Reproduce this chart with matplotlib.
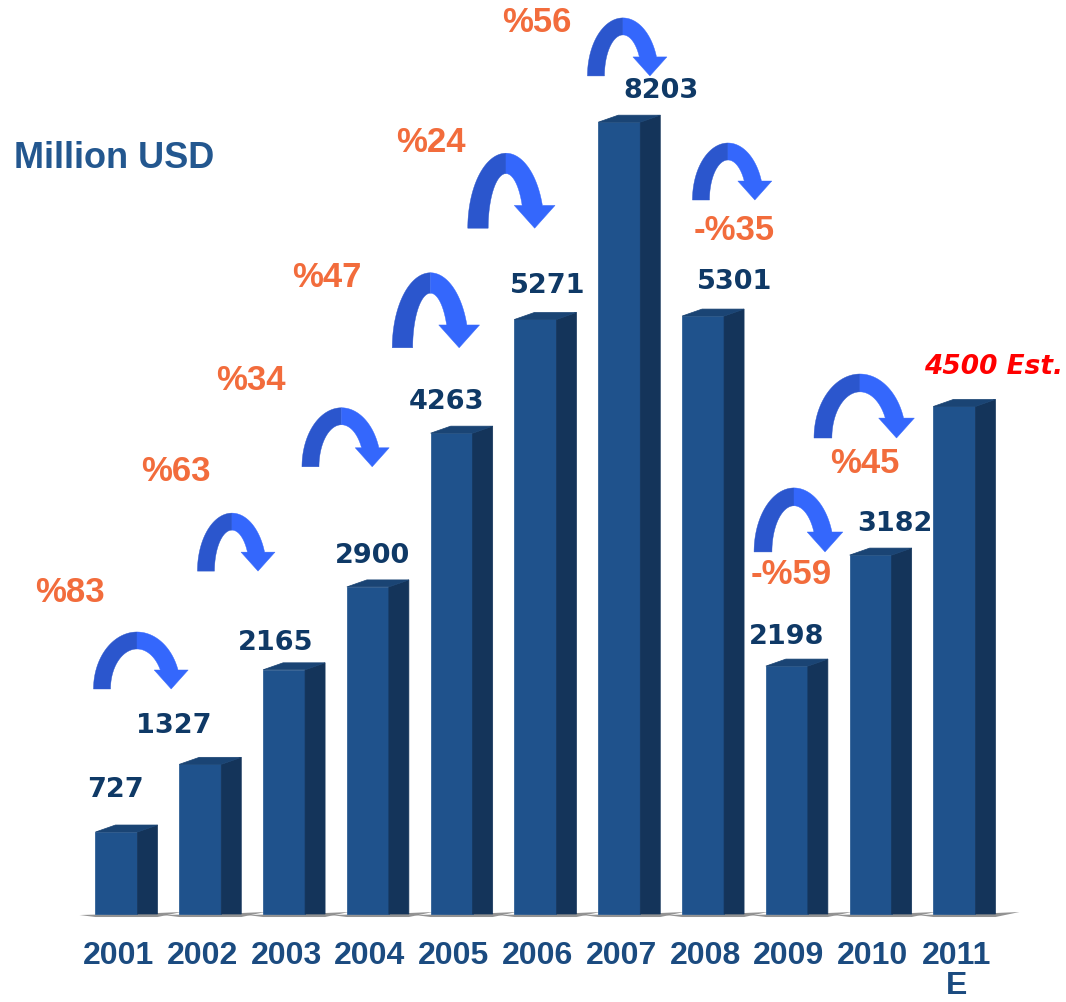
import matplotlib.pyplot as plt
import numpy as np
from matplotlib.patches import Polygon

# data
years = ['2001', '2002', '2003', '2004', '2005', '2006', '2007', '2008', '2009', '2010', '2011\nE']
values = [727, 1327, 2165, 2900, 4263, 5271, 8203, 5301, 2198, 3182, 4500]
value_labels = ['727', '1327', '2165', '2900', '4263', '5271', '8203', '5301', '2198', '3182', '4500 Est.']
growth_labels = ['%83', '%63', '%34', '%47', '%24', '%56', '-%35', '-%59', '%45']

# the 2007 bar is drawn cut off on the slide
display_cap = 7020

# label layout (offsets in pixels from the bar top)
label_dx = [-1, -27, -8, 5, -5, 12, 42, 32, 0, 24, 39]
label_dy = [43, 39, 28, 32, 32, 34, 32, 35, 30, 32, 40]

# growth text positions (bar index, value level)
growth_x = [-0.55, 0.71, 1.60, 2.51, 3.75, 5.02, 7.37, 8.05, 8.93]
growth_y = [2860, 3930, 4735, 5655, 6845, 7915, 6065, 3015, 4005]

# curved arrows: anchor (bar index, value level), radii in px, size scale
arrow_x = [0.245, 1.378, 2.685, 3.747, 4.648, 6.044, 7.297, 8.085, 8.872]
arrow_y = [1995, 3040, 3965, 5020, 6080, 7430, 6330, 3210, 4220]
arrow_rx = [35, 26, 31, 28, 28, 27, 27, 31, 37]
arrow_ry = [57, 58, 59, 75, 75, 58, 57, 64, 64]
arrow_s = [1.0, 1.0, 1.0, 1.2, 1.2, 1.0, 1.0, 1.05, 1.05]

W, H = 1066, 1003
fig = plt.figure(figsize=(W / 100, H / 100), dpi=100)
ax = fig.add_axes([0, 0, 1, 1])
x0, x1 = -1.390, 11.331
y0, y1 = -780, 8112
ax.set_xlim(x0, x1)
ax.set_ylim(y0, y1)
ax.axis('off')

ppx = W / (x1 - x0)   # pixels per x unit
ppy = H / (y1 - y0)   # pixels per value unit

front_c = '#1f528c'
side_c = '#14345a'
top_c = '#1a4474'
label_font = ['Liberation Sans', 'DejaVu Sans']

x = np.arange(len(values))
shown = np.minimum(values, display_cap)
bw = 42 / ppx
ddx = 20 / ppx
ddy = 7 / ppy

bars = ax.bar(x, shown, width=bw, color=front_c, edgecolor=front_c,
              zorder=3, linewidth=0.5)
for rect in bars:
    L = rect.get_x()
    R = L + rect.get_width()
    h = rect.get_height()
    side = Polygon([(R, 0), (R + ddx, 0), (R + ddx, h + ddy), (R, h)],
                   closed=True, fc=side_c, ec=side_c, lw=0.5, zorder=3)
    top = Polygon([(L, h), (R, h), (R + ddx, h + ddy), (L + ddx, h + ddy)],
                  closed=True, fc=top_c, ec=top_c, lw=0.5, zorder=3)
    ax.add_patch(side)
    ax.add_patch(top)
    # floor shadow
    shadow = Polygon([(L - 16 / ppx, -1 / ppy), (L, -3 / ppy), (R + ddx, -3 / ppy),
                      (R + ddx + 24 / ppx, 2 / ppy), (R + ddx, 1 / ppy)],
                     closed=True, color='#3a3a3a', alpha=0.55, zorder=2, lw=0)
    ax.add_patch(shadow)

# value labels
for i, (lab, h) in enumerate(zip(value_labels, shown)):
    if 'Est' in lab:
        ax.annotate(lab, (x[i], h), xytext=(label_dx[i], label_dy[i]),
                    textcoords='offset pixels', ha='center', va='center',
                    fontsize=19, fontweight='bold', style='italic',
                    color='#ff0000', family='DejaVu Sans', zorder=5)
    else:
        ax.annotate(lab, (x[i], h), xytext=(label_dx[i], label_dy[i]),
                    textcoords='offset pixels', ha='center', va='center',
                    fontsize=19.5, fontweight='bold', color='#0f3966',
                    family='DejaVu Sans', zorder=5)

# year labels
for i, yr in enumerate(years):
    ax.annotate(yr, (x[i], 0), xytext=(2, -26), textcoords='offset pixels',
                ha='center', va='top', fontsize=23, fontweight='bold',
                color='#1b4b80', family=label_font, linespacing=1.0)

# growth percentages
for gx, gy, g in zip(growth_x, growth_y, growth_labels):
    ax.text(gx, gy, g, ha='center', va='center', fontsize=25, fontweight='bold',
            color='#f26c3c', family=label_font, zorder=5)


def turn_arrow(ax, cx, cy, rx, ry, s):
    w, hw, hh = 17 * s, 34 * s, 19 * s

    def pts(r_x, r_y, t):
        return np.column_stack([cx + r_x * np.cos(t) / ppx, cy + r_y * np.sin(t) / ppy])

    rox, roy = rx + w / 2, ry
    rix, riy = rx - w / 2, ry - w
    th_o = np.arcsin(hh / roy)
    th_i = np.arcsin(min(hh / riy, 0.99))
    xo = rox * np.cos(th_o)
    xi = rix * np.cos(th_i)
    xm = (xo + xi) / 2 + 2 * s

    t_left = np.linspace(np.pi, np.pi / 2, 40)
    left = np.vstack([pts(rox, roy, t_left), pts(rix, riy, t_left[::-1])])
    t_ro = np.linspace(np.pi / 2, th_o, 40)
    t_ri = np.linspace(th_i, np.pi / 2, 40)
    head = np.array([[cx + (xm + hw / 2) / ppx, cy + hh / ppy],
                     [cx + xm / ppx, cy],
                     [cx + (xm - hw / 2) / ppx, cy + hh / ppy]])
    right = np.vstack([pts(rox, roy, t_ro), head, pts(rix, riy, t_ri)])
    ax.add_patch(Polygon(left, closed=True, fc='#2b56cd', ec='#2b56cd', lw=0.3, zorder=4))
    ax.add_patch(Polygon(right, closed=True, fc='#3467fc', ec='#3467fc', lw=0.3, zorder=4))


for ax_, ay_, rx_, ry_, s_ in zip(arrow_x, arrow_y, arrow_rx, arrow_ry, arrow_s):
    turn_arrow(ax, ax_, ay_, rx_, ry_, s_)

# unit title (158 px from the top, baseline at 915 px)
ax.text(x0 + 14 / ppx, (915 - 158) / ppy, 'Million USD',
        ha='left', va='center', fontsize=26, fontweight='bold', color='#23578f',
        family=label_font)

fig.savefig('out.png', dpi=100)
